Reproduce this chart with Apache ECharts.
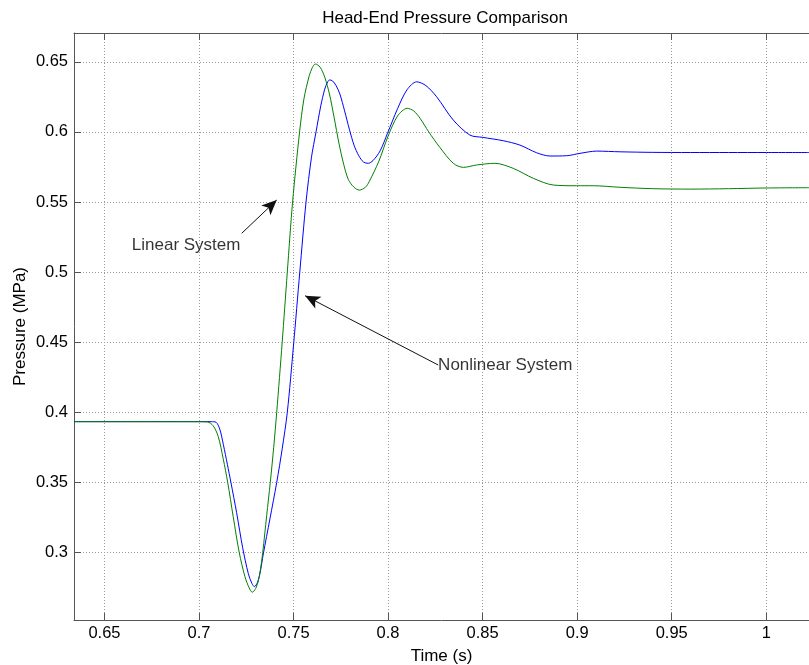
<!DOCTYPE html>
<html>
<head>
<meta charset="utf-8">
<script src="https://cdn.jsdelivr.net/npm/echarts@6/dist/echarts.min.js"></script>
<style>
html,body{margin:0;padding:0;background:#fff;}
#chart{width:809px;height:665px;}
</style>
</head>
<body>
<div id="chart"></div>
<script>
// ---- data ----
const titleText = 'Head-End Pressure Comparison';
const xName = 'Time (s)';
const yName = 'Pressure (MPa)';
const xTicks = [0.65, 0.7, 0.75, 0.8, 0.85, 0.9, 0.95, 1.0];
const yTicks = [0.3, 0.35, 0.4, 0.45, 0.5, 0.55, 0.6, 0.65];
const xRange = [0.6339, 1.0226];
const yRange = [0.252, 0.6705];

// Nonlinear system (blue)
const tNonlinear = [0.6339,0.7065,0.709,0.711,0.7129,0.715,0.7169,0.7199,0.7231,0.7261,0.728,0.7293,0.731,0.7325,0.734,0.7375,0.7411,0.744,0.7467,0.75,0.7533,0.7566,0.7595,0.7619,0.7644,0.7665,0.768,0.769,0.7705,0.7725,0.7745,0.777,0.7795,0.782,0.7845,0.787,0.7895,0.792,0.7958,0.7997,0.805,0.81,0.8151,0.82,0.8257,0.8345,0.8433,0.85,0.8609,0.8697,0.8786,0.8856,0.8944,0.9015,0.9103,0.9227,0.94,0.96,0.98,1.0,1.0226];
const pNonlinear = [0.3934,0.3934,0.393,0.388,0.377,0.363,0.35,0.3285,0.3035,0.285,0.278,0.2758,0.279,0.287,0.299,0.324,0.35,0.374,0.4,0.448,0.5,0.55,0.582,0.6,0.6185,0.6305,0.6355,0.637,0.6365,0.633,0.627,0.615,0.602,0.5905,0.583,0.5785,0.5776,0.5795,0.5865,0.599,0.6165,0.63,0.6357,0.633,0.625,0.6084,0.5977,0.5961,0.5937,0.5906,0.5851,0.5828,0.583,0.5847,0.5863,0.5858,0.5854,0.5853,0.5853,0.5853,0.5853];

// Linear system (green)
const tLinear = [0.6339,0.7,0.7045,0.7075,0.7102,0.7128,0.7152,0.7181,0.7213,0.7243,0.7265,0.7282,0.73,0.7314,0.7325,0.7337,0.7358,0.7377,0.7395,0.7411,0.744,0.7467,0.7495,0.7532,0.7555,0.7583,0.76,0.7615,0.764,0.7665,0.769,0.7715,0.774,0.7765,0.779,0.782,0.7848,0.788,0.79,0.795,0.8,0.805,0.8101,0.8135,0.8169,0.8215,0.8274,0.8345,0.8398,0.8468,0.8565,0.8662,0.8768,0.8874,0.8997,0.9085,0.9227,0.94,0.96,0.98,1.0,1.0226];
const pLinear = [0.3934,0.3934,0.3932,0.3905,0.3827,0.367,0.35,0.3256,0.3,0.2829,0.275,0.2718,0.2745,0.28,0.288,0.3,0.3265,0.35,0.375,0.4,0.45,0.5,0.55,0.6,0.6235,0.64,0.646,0.6484,0.6462,0.639,0.627,0.61,0.592,0.577,0.566,0.5605,0.5585,0.5605,0.5645,0.5787,0.597,0.6113,0.6168,0.615,0.6097,0.6,0.5889,0.5776,0.5747,0.5764,0.5776,0.574,0.5669,0.5621,0.5616,0.5616,0.5605,0.5595,0.5592,0.5595,0.56,0.5602];

// Annotations
const annoText = ['Linear System', 'Nonlinear System'];
const annoTextPos = [[0.6642, 0.5193], [0.8262, 0.4338]];
const annoArrowFrom = [[0.7226, 0.5277], [0.8265, 0.4338]];
const annoArrowTo = [[0.7411, 0.5514], [0.7561, 0.4832]];

// ---- chart ----
const FONT = '"Liberation Sans", Arial, Helvetica, sans-serif';
const chart = echarts.init(document.getElementById('chart'), null, {renderer: 'canvas'});
const zip = (a, b) => a.map((v, i) => [v, b[i]]);
const axisColor = '#555';
const gridLineStyle = {color: '#9a9a9a', width: 1, type: [1, 2]};

const option = {
  animation: false,
  backgroundColor: '#fff',
  title: {
    text: titleText, left: 440, top: 5, textAlign: 'center',
    textStyle: {fontFamily: FONT, fontSize: 17, fontWeight: 'normal', color: '#000'}
  },
  grid: {left: 74, top: 33, right: 0, bottom: 45, containLabel: false, outerBoundsMode: 'none'},
  xAxis: [{
    type: 'value', min: xRange[0], max: xRange[1], position: 'bottom',
    name: xName, nameLocation: 'middle', nameGap: 28, nameMoveOverlap: false,
    nameTextStyle: {fontFamily: FONT, fontSize: 17, color: '#000'},
    axisLine: {show: true, lineStyle: {color: axisColor, width: 1}},
    axisTick: {show: true, inside: true, length: 7, customValues: xTicks, lineStyle: {color: axisColor}},
    axisLabel: {customValues: xTicks, fontFamily: FONT, fontSize: 16.5, color: '#000', margin: 5},
    splitLine: {show: true, lineStyle: gridLineStyle}
  }, {
    type: 'value', min: xRange[0], max: xRange[1], position: 'top',
    axisLine: {show: true, onZero: false, lineStyle: {color: axisColor, width: 1}},
    axisTick: {show: true, inside: true, length: 7, customValues: xTicks, lineStyle: {color: axisColor}},
    axisLabel: {show: false, customValues: xTicks},
    splitLine: {show: false}
  }],
  yAxis: [{
    type: 'value', min: yRange[0], max: yRange[1],
    name: yName, nameLocation: 'middle', nameGap: 45, nameRotate: 90, nameMoveOverlap: false,
    nameTextStyle: {fontFamily: FONT, fontSize: 17, color: '#000'},
    axisLine: {show: true, lineStyle: {color: axisColor, width: 1}},
    axisTick: {show: true, inside: true, length: 7, customValues: yTicks, lineStyle: {color: axisColor}},
    axisLabel: {customValues: yTicks, fontFamily: FONT, fontSize: 16.5, color: '#000', margin: 6},
    splitLine: {show: true, lineStyle: gridLineStyle}
  }],
  series: [
    {
      name: 'Nonlinear System', type: 'line', data: zip(tNonlinear, pNonlinear),
      showSymbol: false, smooth: 0.3,
      lineStyle: {color: '#0000ff', width: 1}, z: 3
    },
    {
      name: 'Linear System', type: 'line', data: zip(tLinear, pLinear),
      showSymbol: false, smooth: 0.3,
      lineStyle: {color: '#008000', width: 1}, z: 4,
      markLine: {
        silent: true, symbol: ['none', 'arrow'], symbolSize: [10, 15],
        lineStyle: {color: '#111', width: 1, type: 'solid'},
        label: {show: false},
        data: annoArrowFrom.map((f, i) => [{coord: f}, {coord: annoArrowTo[i]}])
      }
    },
    {
      type: 'scatter', symbolSize: 1, itemStyle: {color: 'rgba(0,0,0,0)'}, z: 5,
      data: annoTextPos.map((p, i) => ({value: p, name: annoText[i]})),
      label: {show: true, position: 'right', distance: 0, formatter: p => p.name,
        fontFamily: FONT, fontSize: 17, color: '#000'}
    }
  ]
};
chart.setOption(option);
</script>
</body>
</html>
